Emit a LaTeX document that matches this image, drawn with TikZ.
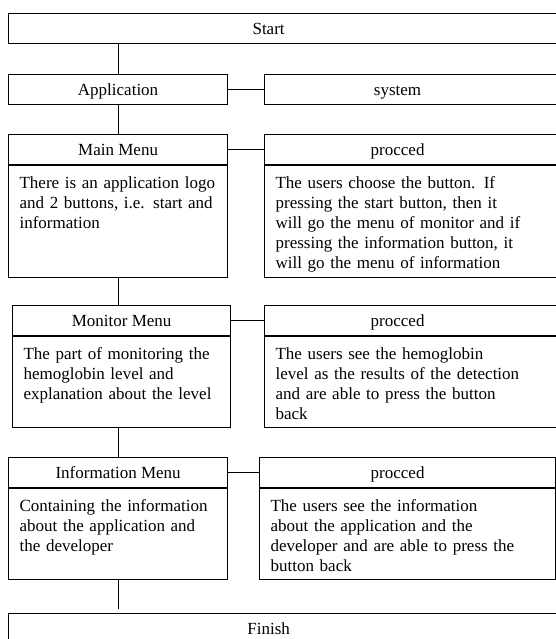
\documentclass[tikz,border=0pt]{standalone}
\usepackage{fontspec}
\setmainfont{Liberation Serif}
\usetikzlibrary{positioning}

\begin{document}
\begin{tikzpicture}[x=1pt, y=-1pt, line width=1.2pt,
  font=\fontsize{17}{20}\selectfont,
  tag/.style={text height=12.5pt, text depth=0pt, inner sep=0pt},
  head/.style={draw, tag, minimum height=30pt, anchor=north west},
  body/.style={draw, inner xsep=11pt, inner ysep=0pt, align=left,
    text height=23pt, text depth=#1, node distance=0pt}]
  \useasboundingbox (0,0) rectangle (556,639);
  \clip (0,0) rectangle (556,639);

  % outer frame
  \node[head, minimum width=562pt, label={[tag, xshift=-21pt]center:Start}] (start) at (8,13) {};
  \node[head, minimum width=562pt, label={[tag, xshift=-21pt]center:Finish}] (finish) at (8,613) {};

  % left column
  \node[head, minimum width=219pt] (app) at (8,74) {Application};
  \node[head, minimum width=219pt] (mainT) at (8,134) {Main Menu};
  \node[body=89pt, text width=197pt, below=of mainT] (mainB)
    {There is an application logo\\and 2 buttons, i.e. start and\\information};
  \node[head, minimum width=218pt] (monT) at (12,305) {Monitor Menu};
  \node[body=68pt, text width=196pt, below=of monT] (monB)
    {The part of monitoring the\\hemoglobin level and\\explanation about the level};
  \node[head, minimum width=219pt] (infT) at (8,457) {Information Menu};
  \node[body=68pt, text width=197pt, below=of infT] (infB)
    {Containing the information\\about the application and\\the developer};

  % right column
  \node[head, minimum width=306pt, label={[tag, xshift=-20pt]center:system}] (sys) at (264,74) {};
  \node[head, minimum width=306pt, label={[tag, xshift=-20pt]center:procced}] (proA) at (264,134) {};
  \node[body=89pt, text width=284pt, below=of proA] (proAB)
    {The users choose the button. If\\pressing the start button, then it\\will go the menu of monitor and if\\pressing the information button, it\\will go the menu of information};
  \node[head, minimum width=306pt, label={[tag, xshift=-20pt]center:procced}] (proB) at (264,305) {};
  \node[body=68pt, text width=284pt, below=of proB] (proBB)
    {The users see the hemoglobin\\level as the results of the detection\\and are able to press the button\\back};
  \node[head, minimum width=296pt, label={[tag, xshift=-10pt]center:procced}] (proC) at (259,457) {};
  \node[body=68pt, text width=274pt, below=of proC] (proCB)
    {The users see the information\\about the application and the\\developer and are able to press the\\button back};

  % connectors
  \draw (start.south -| app) -- (app);
  \draw (app) -- (mainT);
  \draw (mainB.south) -- (mainB.south |- monT.north);
  \draw (monB.south -| mainB.south) -- (mainB.south |- infT.north);
  \draw[shorten >=4pt] (infB.south) -- (infB.south |- finish.north);

  \draw (app) -- (sys);
  \draw (mainT) -- (proA);
  \draw (monT) -- (proB);
  \draw (infT) -- (proC);
\end{tikzpicture}
\end{document}
